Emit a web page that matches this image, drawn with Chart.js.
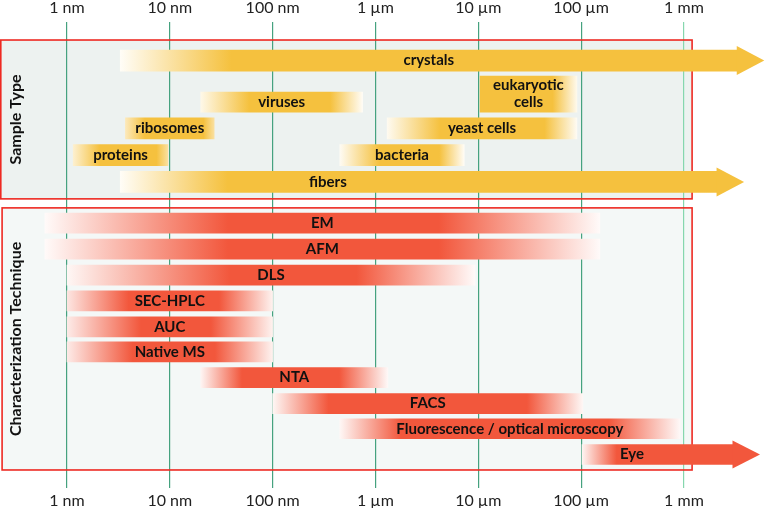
<!DOCTYPE html>
<html><head><meta charset="utf-8">
<script src="https://cdn.jsdelivr.net/npm/chart.js@4/dist/chart.umd.min.js"></script>
<style>html,body{margin:0;padding:0;background:#fff}#wrap{width:765px;height:508px}</style>
</head><body><div id="wrap"><canvas id="c" width="765" height="508"></canvas></div>
<script>
// ---------- DATA (sizes in nm) ----------
const xTickValues = [1, 10, 100, 1e3, 1e4, 1e5, 1e6];
const xTickLabels = ['1 nm', '10 nm', '100 nm', '1 µm', '10 µm', '100 µm', '1 mm'];

const sampleLabels = ['crystals', ['eukaryotic', 'cells'], 'viruses', 'ribosomes', 'yeast cells', 'proteins', 'bacteria', 'fibers'];
const sampleMin = [3.3, 10400, 20, 3.7, 1300, 1.15, 450, 3.3];
const sampleMax = [3.3e6, 91000, 750, 27, 91000, 9.6, 7300, 2.1e6];

const techLabels = ['EM', 'AFM', 'DLS', 'SEC-HPLC', 'AUC', 'Native MS', 'NTA', 'FACS', 'Fluorescence / optical microscopy', 'Eye'];
const techMin = [0.61, 0.61, 1, 1, 1, 1, 20, 100, 450, 102000];
const techMax = [152000, 152000, 9300, 100, 100, 100, 1320, 104000, 915000, 3.0e6];

const panelTitles = ['Sample Type', 'Characterization Technique'];

// ---------- LAYOUT / STYLE ----------
const X_MIN = 0.2233, X_MAX = 6.14e6;
const sampleRow = [1.50, 2.80, 3.11, 4.13, 4.13, 5.17, 5.17, 6.21];
const sampleThick = [21, 36, 20, 21, 21, 21, 21, 21];
// [fade-in end fraction, fade-out start fraction, start strength, end strength]
const sampleFade = [[0.18, 1, 0.04, 1], [0, 0.75, 1, 0.1], [0.3, 0.8, 0.12, 0.05], [0.22, 0.88, 0.35, 0.5],
                    [0.28, 0.83, 0.08, 0.06], [0.28, 0.88, 0.25, 0.5], [0.32, 0.8, 0.06, 0.05], [0.18, 1, 0.04, 1]];
const sampleArrow = [true, false, false, false, false, false, false, true];
const sampleLabelAt = [null, null, null, null, null, null, null, 345];

const techRow = [7.81, 8.82, 9.83, 10.83, 11.84, 12.81, 13.81, 14.82, 15.80, 16.80];
const techThick = [20, 20, 20, 20, 20, 20, 20, 20, 20, 20];
const techFade = [[0.33, 0.71, 0.03, 0.03], [0.33, 0.71, 0.03, 0.03], [0.4, 0.71, 0.05, 0.03], [0.3, 0.74, 0.15, 0.08],
                  [0.36, 0.7, 0.12, 0.08], [0.32, 0.72, 0.12, 0.08], [0.22, 0.74, 0.06, 0.04], [0.18, 0.82, 0.05, 0.05],
                  [0.18, 0.79, 0.05, 0.04], [0.23, 1, 0.06, 1]];
const techArrow = [false, false, false, false, false, false, false, false, false, true];
const techLabelAt = [null, null, null, null, null, null, null, null, null, 312000];

const panels = [
  { xMin: X_MIN, xMax: 1.2e6, yMin: 0.70, yMax: 6.87, fill: '#edf2f0' },
  { xMin: 0.234, xMax: 1.2e6, yMin: 7.22, yMax: 17.40, fill: '#f4f8f7' }
];
const YELLOW = [245, 193, 62];
const RED = [242, 87, 60];

function mix(c, s) {
  const r = Math.round(255 + (c[0] - 255) * s), g = Math.round(255 + (c[1] - 255) * s), b = Math.round(255 + (c[2] - 255) * s);
  return `rgb(${r},${g},${b})`;
}

function makeDataset(label, min, max, row, thick, fade, arrow, labelAt, color) {
  return {
    label: label,
    data: [{ x: [min, max], y: row }],
    barThickness: thick,
    stack: 'all',
    borderWidth: 0,
    borderSkipped: false,
    arrow: arrow,
    labelAt: labelAt,
    baseColor: color,
    backgroundColor: (ctx) => {
      const chart = ctx.chart;
      if (!chart.chartArea) return mix(color, 1);
      const xs = chart.scales.x;
      const x0 = xs.getPixelForValue(min), x1 = xs.getPixelForValue(max);
      const g = chart.ctx.createLinearGradient(x0, 0, x1, 0);
      g.addColorStop(0, mix(color, fade[2]));
      g.addColorStop(Math.max(0.001, fade[0]), mix(color, 1));
      g.addColorStop(Math.min(0.999, fade[1]), mix(color, 1));
      g.addColorStop(1, mix(color, fade[3]));
      return g;
    }
  };
}

const datasets = [];
sampleLabels.forEach((l, i) => datasets.push(makeDataset(l, sampleMin[i], sampleMax[i], sampleRow[i], sampleThick[i], sampleFade[i], sampleArrow[i], sampleLabelAt[i], YELLOW)));
techLabels.forEach((l, i) => datasets.push(makeDataset(l, techMin[i], techMax[i], techRow[i], techThick[i], techFade[i], techArrow[i], techLabelAt[i], RED)));

const panelPlugin = {
  id: 'panels',
  beforeDraw(chart) {
    const { ctx, scales: { x, y } } = chart;
    ctx.save();
    panels.forEach(p => {
      const l = x.getPixelForValue(p.xMin), r = x.getPixelForValue(p.xMax);
      const t = y.getPixelForValue(p.yMin), b = y.getPixelForValue(p.yMax);
      ctx.fillStyle = p.fill;
      ctx.fillRect(l, t, r - l, b - t);
    });
    ctx.restore();
  },
  beforeDatasetsDraw(chart) {
    const { ctx, scales: { x, y } } = chart;
    ctx.save();
    ctx.strokeStyle = '#ee2a22';
    ctx.lineWidth = 1.6;
    panels.forEach((p, i) => {
      const l = Math.max(x.getPixelForValue(p.xMin), 0.8), r = x.getPixelForValue(p.xMax);
      const t = y.getPixelForValue(p.yMin), b = y.getPixelForValue(p.yMax);
      ctx.strokeRect(l, t, r - l, b - t);
      ctx.save();
      ctx.translate(16, (t + b) / 2);
      ctx.rotate(-Math.PI / 2);
      ctx.fillStyle = '#111';
      ctx.font = 'bold 16px Lato';
      ctx.textAlign = 'center';
      ctx.textBaseline = 'middle';
      ctx.fillText(panelTitles[i], 0, 0);
      ctx.restore();
    });
    ctx.restore();
  },
  afterDatasetsDraw(chart) {
    const { ctx, scales: { x } } = chart;
    ctx.save();
    chart.data.datasets.forEach((ds, i) => {
      const el = chart.getDatasetMeta(i).data[0];
      if (!el) return;
      const h = el.height;
      if (ds.arrow) {
        ctx.fillStyle = mix(ds.baseColor, 1);
        const hl = 27, hh = h / 2 + 4;
        ctx.beginPath();
        ctx.moveTo(el.x - 0.5, el.y - hh);
        ctx.lineTo(el.x + hl, el.y);
        ctx.lineTo(el.x - 0.5, el.y + hh);
        ctx.closePath();
        ctx.fill();
      }
      const cx = ds.labelAt != null ? x.getPixelForValue(ds.labelAt) : (el.x + el.base) / 2;
      ctx.fillStyle = '#111';
      ctx.font = 'bold 15px Lato';
      ctx.textAlign = 'center';
      ctx.textBaseline = 'middle';
      const lines = Array.isArray(ds.label) ? ds.label : [ds.label];
      const lh = 17;
      lines.forEach((t, k) => ctx.fillText(t, cx, el.y + (k - (lines.length - 1) / 2) * lh));
    });
    ctx.restore();
  }
};

function setTicks(scale) {
  scale.ticks = xTickValues.map(v => ({ value: v, major: true }));
}

new Chart(document.getElementById('c'), {
  type: 'bar',
  data: { datasets },
  options: {
    responsive: false,
    animation: false,
    devicePixelRatio: 1,
    indexAxis: 'y',
    layout: { padding: 0 },
    plugins: { legend: { display: false }, tooltip: { enabled: false } },
    scales: {
      x: {
        type: 'logarithmic', position: 'top', min: X_MIN, max: X_MAX, stacked: false,
        afterBuildTicks: setTicks,
        afterFit: (s) => { s.height = 22; },
        border: { display: false },
        grid: {
          drawTicks: false,
          color: (c) => (c.tick && c.tick.value === 1e6 ? '#86d7ae' : '#45a27f'),
          lineWidth: 1.2
        },
        ticks: {
          autoSkip: false, maxRotation: 0, padding: 5, color: '#222',
          font: { family: 'Lato', size: 16 },
          callback: (v, i) => xTickLabels[i]
        }
      },
      x2: {
        type: 'logarithmic', position: 'bottom', min: X_MIN, max: X_MAX, axis: 'x',
        afterBuildTicks: setTicks,
        afterFit: (s) => { s.height = 20; },
        border: { display: false },
        grid: { display: false, drawTicks: false },
        ticks: {
          autoSkip: false, maxRotation: 0, padding: 3, color: '#222',
          font: { family: 'Lato', size: 16 },
          callback: (v, i) => xTickLabels[i]
        }
      },
      y: { type: 'linear', reverse: true, min: 0, max: 18.1, display: false, stacked: true, offset: false, grid: { offset: false } }
    }
  },
  plugins: [panelPlugin]
});
</script>
</body></html>
